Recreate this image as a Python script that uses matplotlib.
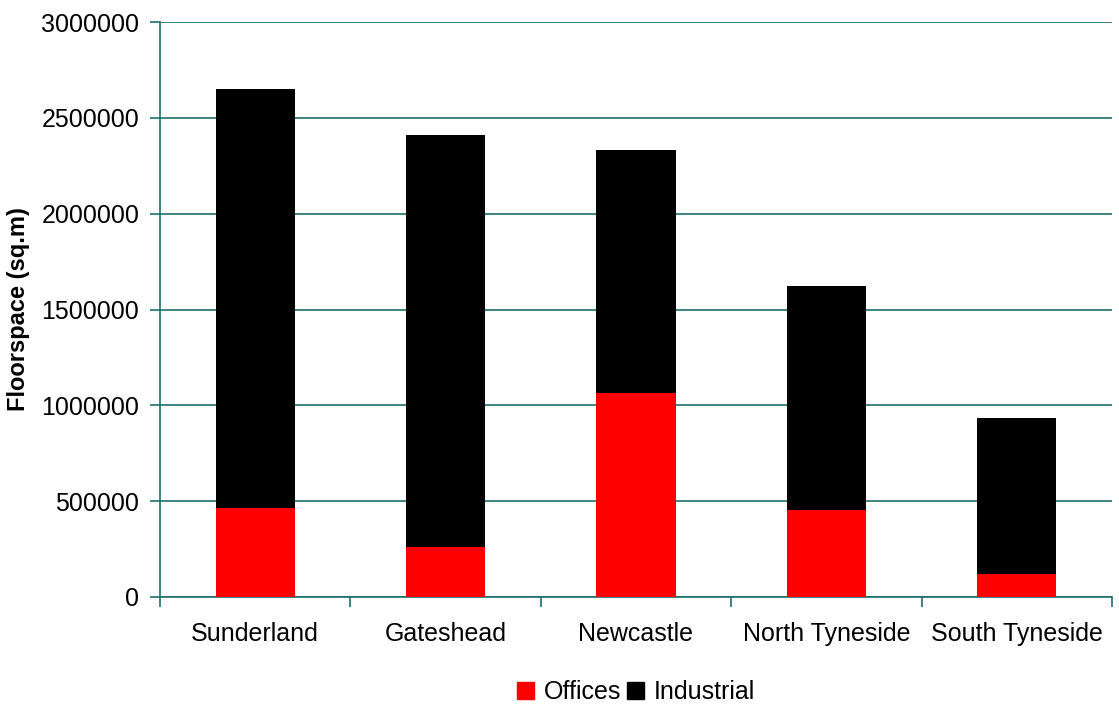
import matplotlib
matplotlib.use("Agg")
import matplotlib.pyplot as plt
import numpy as np
from matplotlib.patches import Patch

categories = ["Sunderland", "Gateshead", "Newcastle", "North Tyneside", "South Tyneside"]
offices = [465000, 263000, 1065000, 452000, 122000]
totals = [2652000, 2410000, 2330000, 1625000, 935000]
industrial = [t - o for t, o in zip(totals, offices)]
yticks = [0, 500000, 1000000, 1500000, 2000000, 2500000, 3000000]

plt.rcParams['font.family'] = ['Liberation Sans', 'DejaVu Sans']
axis_col = '#1d6f70'

fig = plt.figure(figsize=(11.19, 7.06), dpi=100)
ax = fig.add_axes([160/1119, 109/706, (1112-160)/1119, (597-22)/706])

x = np.arange(len(categories))
w = 0.415
ax.bar(x, offices, w, color='#ff0000', label='Offices', zorder=3)
ax.bar(x, industrial, w, bottom=offices, color='#000000', label='Industrial', zorder=3)

ax.set_xlim(-0.5, len(categories) - 0.5)
ax.set_ylim(0, 3000000)
ax.set_yticks(yticks)
ax.set_yticklabels([str(v) for v in yticks], fontsize=18)
ax.yaxis.grid(True, color=axis_col, linewidth=1.2, zorder=0)
ax.set_axisbelow(True)

ax.set_xticks(x)
ax.set_xticklabels(categories, fontsize=18)
ax.tick_params(axis='x', which='major', length=0, pad=18)
ax.set_xticks(np.arange(-0.5, len(categories)), minor=True)
ax.tick_params(axis='x', which='minor', length=7, color=axis_col, width=1.2)
ax.tick_params(axis='y', length=7, color=axis_col, width=1.2, pad=8)

for s in ['top', 'right']:
    ax.spines[s].set_visible(False)
for s in ['left', 'bottom']:
    ax.spines[s].set_color(axis_col)
    ax.spines[s].set_linewidth(1.2)

ax.set_ylabel('Floorspace (sq.m)', fontsize=17, fontweight='bold')
ax.yaxis.set_label_coords(-0.137, 0.5)

handles = [Patch(color='#ff0000', label='Offices'), Patch(color='#000000', label='Industrial')]
fig.legend(handles=handles, loc='center', bbox_to_anchor=(636/1119, 1 - 692/706), ncol=2,
           frameon=False, fontsize=18, handlelength=0.7, handleheight=0.7,
           handletextpad=0.4, columnspacing=0.2)

fig.savefig('out.png', dpi=100)
